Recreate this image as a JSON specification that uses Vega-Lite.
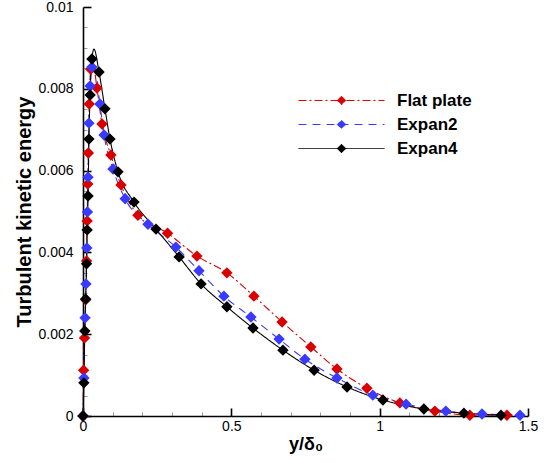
{
  "$schema": "https://vega.github.io/schema/vega-lite/v6.json",
  "width": 445,
  "height": 409,
  "autosize": "none",
  "padding": {"left": 83, "top": 7, "right": 20, "bottom": 50},
  "background": "white",
  "config": {
    "view": {"stroke": null},
    "font": "Liberation Sans",
    "axis": {"grid": false, "domainColor": "black", "domainWidth": 1.6, "labelColor": "black", "labelFont": "Liberation Sans", "labelFontSize": 14, "titleFont": "Liberation Sans", "titleColor": "black", "titleFontWeight": "bold"}
  },
  "datasets": {
    "curves": [
      {"case": "Flat plate", "y": 0, "k": 0},
      {"case": "Flat plate", "y": 0.002, "k": 0.00112},
      {"case": "Flat plate", "y": 0.005, "k": 0.00191},
      {"case": "Flat plate", "y": 0.009, "k": 0.00284},
      {"case": "Flat plate", "y": 0.012, "k": 0.00379},
      {"case": "Flat plate", "y": 0.014, "k": 0.00477},
      {"case": "Flat plate", "y": 0.016, "k": 0.00567},
      {"case": "Flat plate", "y": 0.018, "k": 0.00643},
      {"case": "Flat plate", "y": 0.021, "k": 0.00763},
      {"case": "Flat plate", "y": 0.026, "k": 0.00848},
      {"case": "Flat plate", "y": 0.033, "k": 0.00866},
      {"case": "Flat plate", "y": 0.047, "k": 0.00802},
      {"case": "Flat plate", "y": 0.064, "k": 0.00714},
      {"case": "Flat plate", "y": 0.094, "k": 0.00638},
      {"case": "Flat plate", "y": 0.128, "k": 0.00565},
      {"case": "Flat plate", "y": 0.185, "k": 0.00491},
      {"case": "Flat plate", "y": 0.285, "k": 0.00447},
      {"case": "Flat plate", "y": 0.384, "k": 0.00391},
      {"case": "Flat plate", "y": 0.485, "k": 0.0035},
      {"case": "Flat plate", "y": 0.576, "k": 0.00293},
      {"case": "Flat plate", "y": 0.671, "k": 0.0023},
      {"case": "Flat plate", "y": 0.768, "k": 0.00169},
      {"case": "Flat plate", "y": 0.856, "k": 0.00115},
      {"case": "Flat plate", "y": 0.957, "k": 0.00068},
      {"case": "Flat plate", "y": 1.068, "k": 0.00032},
      {"case": "Flat plate", "y": 1.186, "k": 0.00012},
      {"case": "Flat plate", "y": 1.304, "k": 0.00002},
      {"case": "Flat plate", "y": 1.429, "k": 0.00002},
      {"case": "Expan2", "y": 0, "k": 0},
      {"case": "Expan2", "y": 0.003, "k": 0.00093},
      {"case": "Expan2", "y": 0.007, "k": 0.0024},
      {"case": "Expan2", "y": 0.01, "k": 0.00323},
      {"case": "Expan2", "y": 0.013, "k": 0.00411},
      {"case": "Expan2", "y": 0.015, "k": 0.00499},
      {"case": "Expan2", "y": 0.017, "k": 0.00584},
      {"case": "Expan2", "y": 0.02, "k": 0.00716},
      {"case": "Expan2", "y": 0.024, "k": 0.00807},
      {"case": "Expan2", "y": 0.03, "k": 0.00853},
      {"case": "Expan2", "y": 0.036, "k": 0.0087},
      {"case": "Expan2", "y": 0.057, "k": 0.00763},
      {"case": "Expan2", "y": 0.071, "k": 0.00687},
      {"case": "Expan2", "y": 0.101, "k": 0.00604},
      {"case": "Expan2", "y": 0.142, "k": 0.00531},
      {"case": "Expan2", "y": 0.219, "k": 0.00469},
      {"case": "Expan2", "y": 0.313, "k": 0.00413},
      {"case": "Expan2", "y": 0.391, "k": 0.00355},
      {"case": "Expan2", "y": 0.475, "k": 0.00293},
      {"case": "Expan2", "y": 0.566, "k": 0.00242},
      {"case": "Expan2", "y": 0.661, "k": 0.00188},
      {"case": "Expan2", "y": 0.748, "k": 0.00139},
      {"case": "Expan2", "y": 0.856, "k": 0.00093},
      {"case": "Expan2", "y": 0.977, "k": 0.00051},
      {"case": "Expan2", "y": 1.089, "k": 0.00029},
      {"case": "Expan2", "y": 1.223, "k": 0.00012},
      {"case": "Expan2", "y": 1.345, "k": 0.00005},
      {"case": "Expan2", "y": 1.473, "k": 0.00002},
      {"case": "Expan4", "y": 0, "k": 0},
      {"case": "Expan4", "y": 0.003, "k": 0.00081},
      {"case": "Expan4", "y": 0.006, "k": 0.00208},
      {"case": "Expan4", "y": 0.009, "k": 0.00286},
      {"case": "Expan4", "y": 0.012, "k": 0.00372},
      {"case": "Expan4", "y": 0.014, "k": 0.00455},
      {"case": "Expan4", "y": 0.017, "k": 0.00538},
      {"case": "Expan4", "y": 0.02, "k": 0.00677},
      {"case": "Expan4", "y": 0.024, "k": 0.00785},
      {"case": "Expan4", "y": 0.03, "k": 0.00873},
      {"case": "Expan4", "y": 0.037, "k": 0.00897},
      {"case": "Expan4", "y": 0.054, "k": 0.00841},
      {"case": "Expan4", "y": 0.074, "k": 0.00751},
      {"case": "Expan4", "y": 0.091, "k": 0.00677},
      {"case": "Expan4", "y": 0.118, "k": 0.00597},
      {"case": "Expan4", "y": 0.172, "k": 0.00523},
      {"case": "Expan4", "y": 0.246, "k": 0.00457},
      {"case": "Expan4", "y": 0.324, "k": 0.00389},
      {"case": "Expan4", "y": 0.398, "k": 0.00323},
      {"case": "Expan4", "y": 0.485, "k": 0.00267},
      {"case": "Expan4", "y": 0.573, "k": 0.00215},
      {"case": "Expan4", "y": 0.674, "k": 0.00161},
      {"case": "Expan4", "y": 0.779, "k": 0.00112},
      {"case": "Expan4", "y": 0.89, "k": 0.00071},
      {"case": "Expan4", "y": 1.011, "k": 0.00039},
      {"case": "Expan4", "y": 1.149, "k": 0.00017},
      {"case": "Expan4", "y": 1.284, "k": 0.00007},
      {"case": "Expan4", "y": 1.409, "k": 0.00002}
    ],
    "samples": [
      {"case": "Flat plate", "y": 0, "k": 0},
      {"case": "Flat plate", "y": 0.002, "k": 0.00112},
      {"case": "Flat plate", "y": 0.005, "k": 0.00191},
      {"case": "Flat plate", "y": 0.009, "k": 0.00284},
      {"case": "Flat plate", "y": 0.012, "k": 0.00379},
      {"case": "Flat plate", "y": 0.014, "k": 0.00477},
      {"case": "Flat plate", "y": 0.016, "k": 0.00567},
      {"case": "Flat plate", "y": 0.018, "k": 0.00643},
      {"case": "Flat plate", "y": 0.021, "k": 0.00763},
      {"case": "Flat plate", "y": 0.026, "k": 0.00848},
      {"case": "Flat plate", "y": 0.047, "k": 0.00802},
      {"case": "Flat plate", "y": 0.064, "k": 0.00714},
      {"case": "Flat plate", "y": 0.094, "k": 0.00638},
      {"case": "Flat plate", "y": 0.128, "k": 0.00565},
      {"case": "Flat plate", "y": 0.185, "k": 0.00491},
      {"case": "Flat plate", "y": 0.285, "k": 0.00447},
      {"case": "Flat plate", "y": 0.384, "k": 0.00391},
      {"case": "Flat plate", "y": 0.485, "k": 0.0035},
      {"case": "Flat plate", "y": 0.576, "k": 0.00293},
      {"case": "Flat plate", "y": 0.671, "k": 0.0023},
      {"case": "Flat plate", "y": 0.768, "k": 0.00169},
      {"case": "Flat plate", "y": 0.856, "k": 0.00115},
      {"case": "Flat plate", "y": 0.957, "k": 0.00068},
      {"case": "Flat plate", "y": 1.068, "k": 0.00032},
      {"case": "Flat plate", "y": 1.186, "k": 0.00012},
      {"case": "Flat plate", "y": 1.304, "k": 0.00002},
      {"case": "Flat plate", "y": 1.429, "k": 0.00002},
      {"case": "Expan2", "y": 0, "k": 0},
      {"case": "Expan2", "y": 0.003, "k": 0.00093},
      {"case": "Expan2", "y": 0.007, "k": 0.0024},
      {"case": "Expan2", "y": 0.01, "k": 0.00323},
      {"case": "Expan2", "y": 0.013, "k": 0.00411},
      {"case": "Expan2", "y": 0.015, "k": 0.00499},
      {"case": "Expan2", "y": 0.017, "k": 0.00584},
      {"case": "Expan2", "y": 0.02, "k": 0.00716},
      {"case": "Expan2", "y": 0.024, "k": 0.00807},
      {"case": "Expan2", "y": 0.03, "k": 0.00853},
      {"case": "Expan2", "y": 0.057, "k": 0.00763},
      {"case": "Expan2", "y": 0.071, "k": 0.00687},
      {"case": "Expan2", "y": 0.101, "k": 0.00604},
      {"case": "Expan2", "y": 0.142, "k": 0.00531},
      {"case": "Expan2", "y": 0.219, "k": 0.00469},
      {"case": "Expan2", "y": 0.313, "k": 0.00413},
      {"case": "Expan2", "y": 0.391, "k": 0.00355},
      {"case": "Expan2", "y": 0.475, "k": 0.00293},
      {"case": "Expan2", "y": 0.566, "k": 0.00242},
      {"case": "Expan2", "y": 0.661, "k": 0.00188},
      {"case": "Expan2", "y": 0.748, "k": 0.00139},
      {"case": "Expan2", "y": 0.856, "k": 0.00093},
      {"case": "Expan2", "y": 0.977, "k": 0.00051},
      {"case": "Expan2", "y": 1.089, "k": 0.00029},
      {"case": "Expan2", "y": 1.223, "k": 0.00012},
      {"case": "Expan2", "y": 1.345, "k": 0.00005},
      {"case": "Expan2", "y": 1.473, "k": 0.00002},
      {"case": "Expan4", "y": 0, "k": 0},
      {"case": "Expan4", "y": 0.003, "k": 0.00081},
      {"case": "Expan4", "y": 0.006, "k": 0.00208},
      {"case": "Expan4", "y": 0.009, "k": 0.00286},
      {"case": "Expan4", "y": 0.012, "k": 0.00372},
      {"case": "Expan4", "y": 0.014, "k": 0.00455},
      {"case": "Expan4", "y": 0.017, "k": 0.00538},
      {"case": "Expan4", "y": 0.02, "k": 0.00677},
      {"case": "Expan4", "y": 0.024, "k": 0.00785},
      {"case": "Expan4", "y": 0.03, "k": 0.00873},
      {"case": "Expan4", "y": 0.054, "k": 0.00841},
      {"case": "Expan4", "y": 0.074, "k": 0.00751},
      {"case": "Expan4", "y": 0.091, "k": 0.00677},
      {"case": "Expan4", "y": 0.118, "k": 0.00597},
      {"case": "Expan4", "y": 0.172, "k": 0.00523},
      {"case": "Expan4", "y": 0.246, "k": 0.00457},
      {"case": "Expan4", "y": 0.324, "k": 0.00389},
      {"case": "Expan4", "y": 0.398, "k": 0.00323},
      {"case": "Expan4", "y": 0.485, "k": 0.00267},
      {"case": "Expan4", "y": 0.573, "k": 0.00215},
      {"case": "Expan4", "y": 0.674, "k": 0.00161},
      {"case": "Expan4", "y": 0.779, "k": 0.00112},
      {"case": "Expan4", "y": 0.89, "k": 0.00071},
      {"case": "Expan4", "y": 1.011, "k": 0.00039},
      {"case": "Expan4", "y": 1.149, "k": 0.00017},
      {"case": "Expan4", "y": 1.284, "k": 0.00007},
      {"case": "Expan4", "y": 1.409, "k": 0.00002}
    ]
  },
  "encoding": {
    "x": {
      "field": "y", "type": "quantitative",
      "scale": {"domain": [0, 1.5], "nice": false, "zero": false},
      "axis": {
        "title": "y/δ₀", "titleFontSize": 18, "titlePadding": 2,
        "values": [0, 0.1, 0.2, 0.3, 0.4, 0.5, 0.6, 0.7, 0.8, 0.9, 1, 1.1, 1.2, 1.3, 1.4, 1.5],
        "format": "~g",
        "labelExpr": "abs(datum.value * 2 - round(datum.value * 2)) < 1e-6 ? datum.label : ''",
        "labelFlush": false, "labelPadding": 11,
        "tickSize": {"condition": {"test": "abs(datum.value * 2 - round(datum.value * 2)) < 1e-6", "value": -8}, "value": -4},
        "tickColor": {"condition": {"test": "abs(datum.value * 2 - round(datum.value * 2)) < 1e-6", "value": "black"}, "value": "#9a9a9a"},
        "tickWidth": {"condition": {"test": "abs(datum.value * 2 - round(datum.value * 2)) < 1e-6", "value": 1.6}, "value": 1}
      }
    },
    "y": {
      "field": "k", "type": "quantitative",
      "scale": {"domain": [0, 0.01], "nice": false, "zero": false},
      "axis": {
        "title": "Turbulent kinetic energy", "titleFontSize": 20, "titlePadding": 3,
        "values": [0, 0.0005, 0.001, 0.0015, 0.002, 0.0025, 0.003, 0.0035, 0.004, 0.0045, 0.005, 0.0055, 0.006, 0.0065, 0.007, 0.0075, 0.008, 0.0085, 0.009, 0.0095, 0.01],
        "format": "~g",
        "labelExpr": "abs(datum.value * 500 - round(datum.value * 500)) < 1e-6 ? datum.label : ''",
        "labelFlush": false, "labelPadding": 18,
        "tickSize": {"condition": {"test": "abs(datum.value * 500 - round(datum.value * 500)) < 1e-6", "value": -8}, "value": -4},
        "tickColor": {"condition": {"test": "abs(datum.value * 500 - round(datum.value * 500)) < 1e-6", "value": "black"}, "value": "#9a9a9a"},
        "tickWidth": {"condition": {"test": "abs(datum.value * 500 - round(datum.value * 500)) < 1e-6", "value": 1.6}, "value": 1}
      }
    },
    "color": {
      "field": "case", "type": "nominal",
      "scale": {"domain": ["Flat plate", "Expan2", "Expan4"], "range": ["#d90000", "#3a3aff", "#000000"]},
      "legend": {
        "title": null, "orient": "none", "legendX": 250, "legendY": 85,
        "labelFont": "Liberation Sans", "labelFontSize": 17, "labelFontWeight": "bold", "labelColor": "black",
        "labelOffset": 47, "rowPadding": 6, "symbolSize": 100, "symbolStrokeWidth": 1,
        "encode": {
          "symbols": {
            "update": {
              "shape": {"value": "M-8.6,0H8.6M0,-0.85L0.85,0L0,0.85L-0.85,0Z"},
              "fill": {"scale": "color", "field": "value"},
              "stroke": {"scale": "color", "field": "value"},
              "strokeWidth": {"value": 1},
              "opacity": {"value": 1}
            }
          }
        }
      }
    }
  },
  "layer": [
    {
      "data": {"name": "curves"},
      "mark": {"type": "line", "strokeWidth": 1.1, "interpolate": "monotone"},
      "encoding": {
        "strokeDash": {
          "field": "case", "type": "nominal",
          "scale": {"domain": ["Flat plate", "Expan2", "Expan4"], "range": [[8, 3, 2, 3], [8, 6], [1, 0]]},
          "legend": null
        }
      }
    },
    {
      "data": {"name": "samples"},
      "mark": {"type": "point", "shape": "diamond", "filled": true, "size": 130, "opacity": 1}
    }
  ]
}
